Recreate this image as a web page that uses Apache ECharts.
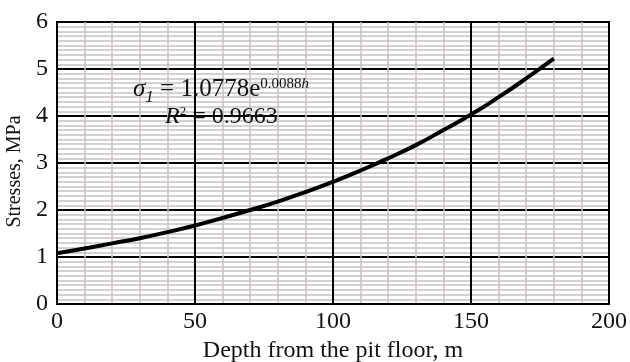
<!DOCTYPE html>
<html>
<head>
<meta charset="utf-8">
<script src="https://cdn.jsdelivr.net/npm/echarts@6/dist/echarts.min.js"></script>
<style>
  html, body { margin: 0; padding: 0; background: #fff; }
  #chart { width: 630px; height: 362px; }
</style>
</head>
<body>
<div id="chart"></div>
<script>
    // depth (m) and fitted stress (MPa)
    var depth = [0, 10, 20, 30, 40, 50, 60, 70, 80, 90, 100, 110, 120, 130, 140, 150, 160, 170, 180];
    var stress = [1.08, 1.18, 1.29, 1.40, 1.53, 1.67, 1.83, 2.00, 2.18, 2.38, 2.60, 2.84, 3.10, 3.38, 3.70, 4.03, 4.40, 4.80, 5.22];

    var xTicks = [0, 50, 100, 150, 200];
    var yTicks = [0, 1, 2, 3, 4, 5, 6];

    var serif = 'Liberation Serif';

    var myChart = echarts.init(document.getElementById('chart'));

    var pts = [];
    for (var i = 0; i < depth.length; i++) {
        pts.push([depth[i], stress[i]]);
    }

    var option = {
        backgroundColor: '#fff',
        animation: false,
        grid: {
            left: 57,
            right: 21,
            top: 22,
            bottom: 58,
            outerBoundsMode: 'none',
            show: true,
            borderColor: '#000',
            borderWidth: 2
        },
        xAxis: {
            type: 'value',
            min: xTicks[0],
            max: xTicks[xTicks.length - 1],
            interval: 50,
            name: 'Depth from the pit floor, m',
            nameLocation: 'middle',
            nameGap: 33,
            nameTextStyle: { fontFamily: serif, fontSize: 24, color: '#111' },
            axisLine: { show: true, lineStyle: { color: '#000', width: 2 } },
            axisTick: { show: false },
            axisLabel: { fontFamily: serif, fontSize: 24, color: '#111', margin: 6 },
            splitLine: { show: true, lineStyle: { color: '#000', width: 2 } },
            minorTick: { show: false, splitNumber: 5 },
            minorSplitLine: { show: true, lineStyle: { color: '#c8c2c2', width: 1.5 } }
        },
        yAxis: {
            type: 'value',
            min: yTicks[0],
            max: yTicks[yTicks.length - 1],
            interval: 1,
            name: 'Stresses, MPa',
            nameLocation: 'middle',
            nameGap: 31,
            nameTextStyle: { fontFamily: serif, fontSize: 20, color: '#111', padding: [0, 17, 0, 0] },
            axisLine: { show: true, lineStyle: { color: '#000', width: 2 } },
            axisTick: { show: false },
            axisLabel: { fontFamily: serif, fontSize: 24, color: '#111', margin: 9 },
            splitLine: { show: true, lineStyle: { color: '#000', width: 2 } },
            minorTick: { show: false, splitNumber: 10 },
            minorSplitLine: { show: true, lineStyle: { color: '#c8c2c2', width: 1.5 } }
        },
        graphic: [
            {
                type: 'text',
                left: 133,
                top: 77,
                z: 10,
                style: {
                    text: '{s|σ}{sub|1}{n| = 1.0778e}{sup|0.0088}{supi|h}',
                    rich: {
                        s: { fontFamily: serif, fontSize: 25, fontStyle: 'italic', fill: '#111', verticalAlign: 'bottom' },
                        sub: { fontFamily: serif, fontSize: 17, fontStyle: 'italic', fill: '#111', verticalAlign: 'bottom', padding: [0, 0, -4, 0] },
                        n: { fontFamily: serif, fontSize: 25, fill: '#111', verticalAlign: 'bottom' },
                        sup: { fontFamily: serif, fontSize: 15, fill: '#111', verticalAlign: 'top' },
                        supi: { fontFamily: serif, fontSize: 15, fontStyle: 'italic', fill: '#111', verticalAlign: 'top' }
                    }
                }
            },
            {
                type: 'text',
                left: 165,
                top: 105,
                z: 10,
                style: {
                    text: '{r|R}{sup|2}{n| = 0.9663}',
                    rich: {
                        r: { fontFamily: serif, fontSize: 24, fontStyle: 'italic', fill: '#111', verticalAlign: 'bottom' },
                        sup: { fontFamily: serif, fontSize: 13, fill: '#111', verticalAlign: 'top' },
                        n: { fontFamily: serif, fontSize: 24, fill: '#111', verticalAlign: 'bottom' }
                    }
                }
            }
        ],
        series: [{
            type: 'line',
            data: pts,
            smooth: true,
            showSymbol: false,
            lineStyle: { color: '#000', width: 4 },
            z: 5
        }]
    };

    myChart.setOption(option);
</script>
</body>
</html>
